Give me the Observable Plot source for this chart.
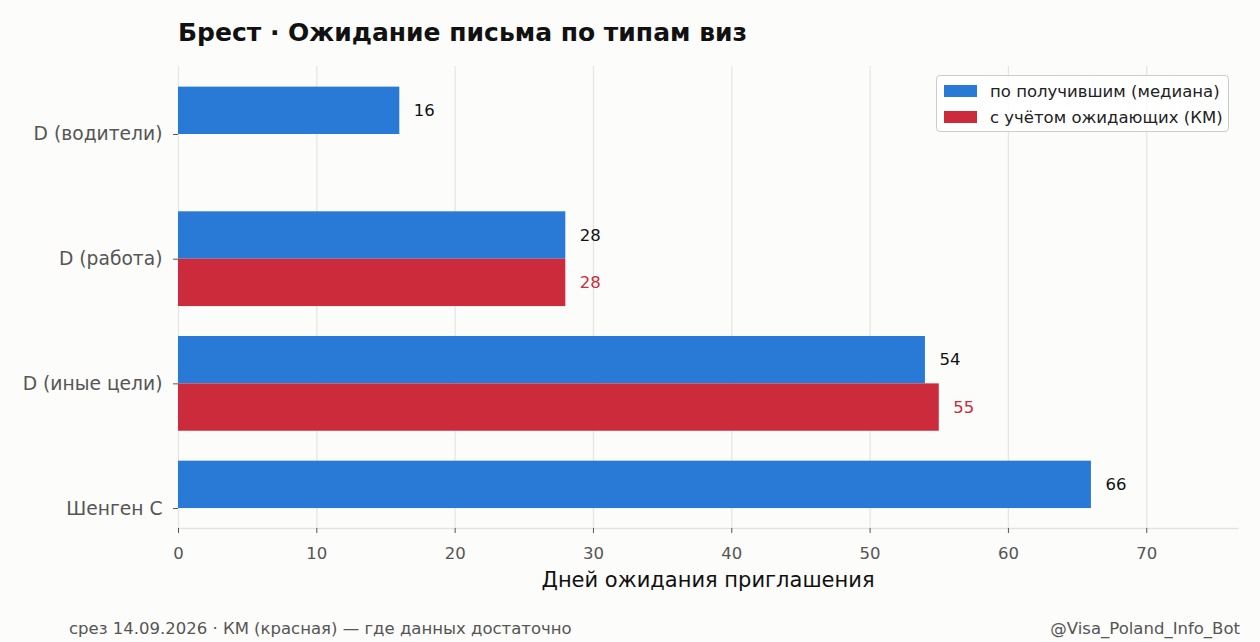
<!DOCTYPE html>
<html><head><meta charset="utf-8">
<script src="https://cdn.jsdelivr.net/npm/d3@7"></script>
<script src="https://cdn.jsdelivr.net/npm/@observablehq/plot@0.6"></script>
<style>
html,body{margin:0;padding:0;background:#fcfcfa;font-family:"DejaVu Sans",sans-serif;}
#wrap{position:relative;width:1260px;height:642px;overflow:hidden;background:#fcfcfa;}
#title{position:absolute;left:178px;top:18px;font-size:25px;font-weight:bold;color:#111;white-space:nowrap;line-height:1.164;}
#chart{position:absolute;left:0;top:56px;}
#legend{position:absolute;left:936px;top:75px;width:291px;height:55px;background:rgba(255,255,255,0.85);border:1px solid #cccccc;border-radius:4px;}
.lrow{position:absolute;left:7px;height:20px;display:flex;align-items:center;font-size:16.5px;color:#222;white-space:nowrap;}
.sw{width:33px;height:12px;margin-right:13px;}
.foot{position:absolute;top:619px;font-size:16.5px;color:#555;white-space:nowrap;line-height:1.164;}
</style></head><body>
<div id="wrap">
<div id="title"></div>
<div id="chart"></div>
<div id="legend"></div>
<div class="foot" id="footL" style="left:69px"></div>
<div class="foot" id="footR" style="right:20px"></div>
</div>
<script>
const titleText = "Брест · Ожидание письма по типам виз";
const categories = ["D (водители)", "D (работа)", "D (иные цели)", "Шенген C"];
const medianValues = [16, 28, 54, 66];
const kmValues = [null, 28, 55, null];
const seriesNames = ["по получившим (медиана)", "с учётом ожидающих (КМ)"];
const seriesColors = ["#2979d6", "#cc2b3b"];
const xTicks = [0, 10, 20, 30, 40, 50, 60, 70];
const xLabel = "Дней ожидания приглашения";
const footLeft = "срез 14.09.2026 · КМ (красная) — где данных достаточно";
const footRight = "@Visa_Poland_Info_Bot";

document.getElementById("title").textContent = titleText;
document.getElementById("footL").textContent = footLeft;
document.getElementById("footR").textContent = footRight;
const leg = document.getElementById("legend");
seriesNames.forEach((n, k) => {
  const row = document.createElement("div");
  row.className = "lrow";
  row.style.top = (5 + k * 26) + "px";
  const sw = document.createElement("div");
  sw.className = "sw";
  sw.style.background = seriesColors[k];
  row.appendChild(sw);
  const t = document.createElement("span");
  t.textContent = n;
  row.appendChild(t);
  leg.appendChild(row);
});

const half = 0.38;
const blue = categories.map((c, i) => ({cat: c, i, v: medianValues[i]}));
const red = categories.map((c, i) => ({cat: c, i, v: kmValues[i]})).filter(d => d.v != null);

const chart = Plot.plot({
  width: 1260,
  height: 544,
  marginLeft: 178,
  marginRight: 23,
  marginTop: 10,
  marginBottom: 72,
  style: {background: "transparent", fontFamily: "DejaVu Sans, sans-serif", fontSize: "16px"},
  x: {domain: [0, 76.56]},
  y: {domain: [-0.5455, 3.16], reverse: true},
  marks: [
    Plot.gridX(xTicks, {stroke: "#e6e6e6", strokeOpacity: 1, strokeWidth: 1.3}),
    Plot.frame({anchor: "bottom", stroke: "#e3e3e3", strokeWidth: 1.5}),
    Plot.rectX(blue, {x1: 0, x2: "v", y1: d => d.i - half, y2: d => d.i, fill: seriesColors[0]}),
    Plot.rectX(red, {x1: 0, x2: "v", y1: d => d.i, y2: d => d.i + half, fill: seriesColors[1]}),
    Plot.text(blue, {x: "v", y: d => d.i - half / 2, text: d => String(d.v), dx: 14, textAnchor: "start", fill: "#111", fontSize: 16.5}),
    Plot.text(red, {x: "v", y: d => d.i + half / 2, text: d => String(d.v), dx: 14, textAnchor: "start", fill: seriesColors[1], fontSize: 16.5}),
    Plot.axisX(xTicks, {tickSize: 5, tickPadding: 14, stroke: "#555", color: "#555", fontSize: 16.5, label: null}),
    Plot.axisY([0, 1, 2, 3], {tickSize: 5, tickPadding: 11, stroke: "#555", color: "#555", fontSize: 18.7, tickFormat: i => categories[i], label: null}),
    Plot.text([xLabel], {frameAnchor: "bottom", dy: 58, fontSize: 21, fill: "#111"})
  ]
});
document.getElementById("chart").appendChild(chart);
</script>
</body></html>
